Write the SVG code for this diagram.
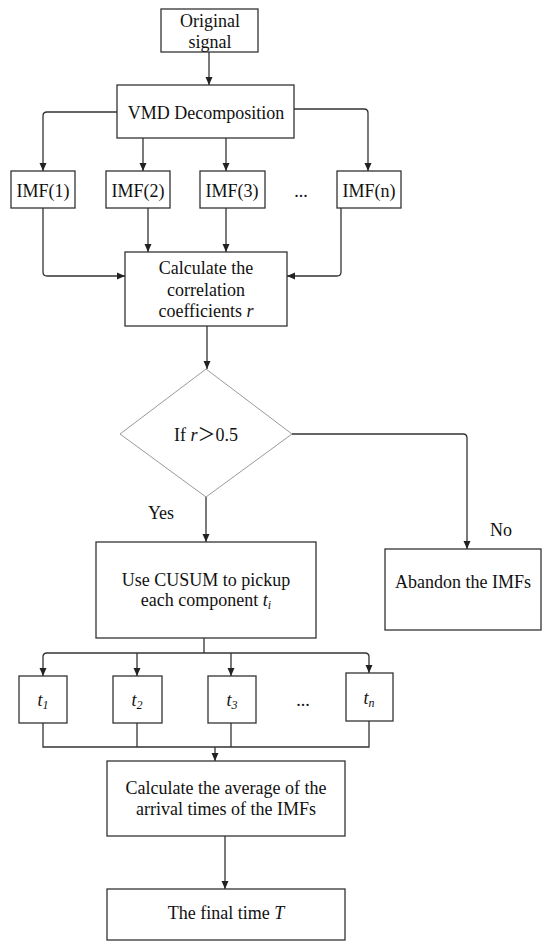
<svg xmlns="http://www.w3.org/2000/svg" width="550" height="949" viewBox="0 0 550 949">
<style>
.box{fill:#fff;stroke:#333;stroke-width:1.3}
.dia{fill:#fff;stroke:#999;stroke-width:1}
.ln{fill:none;stroke:#333;stroke-width:1.3}
text{font-family:'Liberation Serif','Times New Roman',Times,serif;font-size:18px;fill:#111;text-anchor:middle}
.it{font-style:italic}
.sub{font-size:12px;font-style:italic}
</style>
<defs>
<marker id="ah" markerUnits="userSpaceOnUse" markerWidth="8" markerHeight="8" viewBox="0 0 8 8" refX="8" refY="4" orient="auto">
<path d="M0,0.5 L8,4 L0,7.5 Z" fill="#222"/>
</marker>
</defs>
<rect width="550" height="949" fill="#fff"/>
<g id="connectors">
<path class="ln" d="M209,52 V85" marker-end="url(#ah)"/>
<path class="ln" d="M117,112 H47 Q43,112 43,116 V171" marker-end="url(#ah)"/>
<path class="ln" d="M143,138 V171" marker-end="url(#ah)"/>
<path class="ln" d="M226,138 V171" marker-end="url(#ah)"/>
<path class="ln" d="M294,109 H364 Q368,109 368,113 V171" marker-end="url(#ah)"/>
<path class="ln" d="M43,208 V272 Q43,276 47,276 H125" marker-end="url(#ah)"/>
<path class="ln" d="M148,208 V252" marker-end="url(#ah)"/>
<path class="ln" d="M226,208 V252" marker-end="url(#ah)"/>
<path class="ln" d="M341,208 V272 Q341,276 337,276 H287" marker-end="url(#ah)"/>
<path class="ln" d="M207,326 V369" marker-end="url(#ah)"/>
<path class="ln" d="M206,497 V542" marker-end="url(#ah)"/>
<path class="ln" d="M292,434 H463 Q467,434 467,438 V549" marker-end="url(#ah)"/>
<path class="ln" d="M204,638 V653"/>
<path class="ln" d="M47,653 H365"/>
<path class="ln" d="M47,653 Q43,653 43,657 V676" marker-end="url(#ah)"/>
<path class="ln" d="M365,653 Q369,653 369,657 V673" marker-end="url(#ah)"/>
<path class="ln" d="M137,653 V676" marker-end="url(#ah)"/>
<path class="ln" d="M231,653 V676" marker-end="url(#ah)"/>
<path class="ln" d="M43,723 V747 H369 V721"/>
<path class="ln" d="M137,723 V747"/>
<path class="ln" d="M231,723 V747"/>
<path class="ln" d="M215,747 V761" marker-end="url(#ah)"/>
<path class="ln" d="M225,836 V889" marker-end="url(#ah)"/>
</g>
<g font-family="'Liberation Serif', 'Times New Roman', serif">
<g id="original">
<rect class="box" x="161" y="9" width="97" height="43"/>
<text x="210" y="27">Original</text>
<text x="210" y="48">signal</text>
</g>
<g id="vmd">
<rect class="box" x="117" y="85" width="177" height="53"/>
<text x="206" y="119">VMD Decomposition</text>
</g>
<g id="imf1">
<rect class="box" x="11" y="171" width="64" height="37"/>
<text x="43" y="197">IMF(1)</text>
</g>
<g id="imf2">
<rect class="box" x="106" y="171" width="64" height="37"/>
<text x="138" y="197">IMF(2)</text>
</g>
<g id="imf3">
<rect class="box" x="200" y="171" width="65" height="37"/>
<text x="232" y="197">IMF(3)</text>
</g>
<g id="imfdots">
<text x="301" y="197">...</text>
</g>
<g id="imfn">
<rect class="box" x="337" y="171" width="64" height="37"/>
<text x="369" y="197">IMF(n)</text>
</g>
<g id="calc">
<rect class="box" x="125" y="252" width="162" height="74"/>
<text x="206" y="274">Calculate the</text>
<text x="206" y="296">correlation</text>
<text x="206" y="317">coefficients <tspan class="it">r</tspan></text>
</g>
<g id="decision">
<polygon class="dia" points="206,369 292,434 206,497 120,434"/>
<text x="206" y="441">If <tspan class="it">r</tspan><tspan style="font-family:'Noto Sans CJK SC',sans-serif">＞</tspan>0.5</text>
</g>
<g id="yes"><text x="161" y="519">Yes</text></g>
<g id="no"><text x="501" y="536">No</text></g>
<g id="cusum">
<rect class="box" x="96" y="542" width="220" height="96"/>
<text x="206" y="586">Use CUSUM to pickup</text>
<text x="206" y="606">each component <tspan class="it">t</tspan><tspan class="sub" dy="3">i</tspan></text>
</g>
<g id="abandon">
<rect class="box" x="385" y="549" width="156" height="81"/>
<text x="463" y="588">Abandon the IMFs</text>
</g>
<g id="t1">
<rect class="box" x="19" y="676" width="48" height="47"/>
<text x="43" y="706"><tspan class="it">t</tspan><tspan class="sub" dy="3">1</tspan></text>
</g>
<g id="t2">
<rect class="box" x="113" y="676" width="49" height="47"/>
<text x="137" y="706"><tspan class="it">t</tspan><tspan class="sub" dy="3">2</tspan></text>
</g>
<g id="t3">
<rect class="box" x="208" y="676" width="48" height="47"/>
<text x="232" y="706"><tspan class="it">t</tspan><tspan class="sub" dy="3">3</tspan></text>
</g>
<g id="tdots"><text x="303" y="706">...</text></g>
<g id="tn">
<rect class="box" x="346" y="673" width="47" height="48"/>
<text x="369" y="704"><tspan class="it">t</tspan><tspan class="sub" dy="3">n</tspan></text>
</g>
<g id="average">
<rect class="box" x="107" y="761" width="238" height="75"/>
<text x="226" y="794">Calculate the average of the</text>
<text x="226" y="815">arrival times of the IMFs</text>
</g>
<g id="final">
<rect class="box" x="107" y="889" width="238" height="51"/>
<text x="226" y="919">The final time <tspan class="it">T</tspan></text>
</g>
</g>
</svg>
